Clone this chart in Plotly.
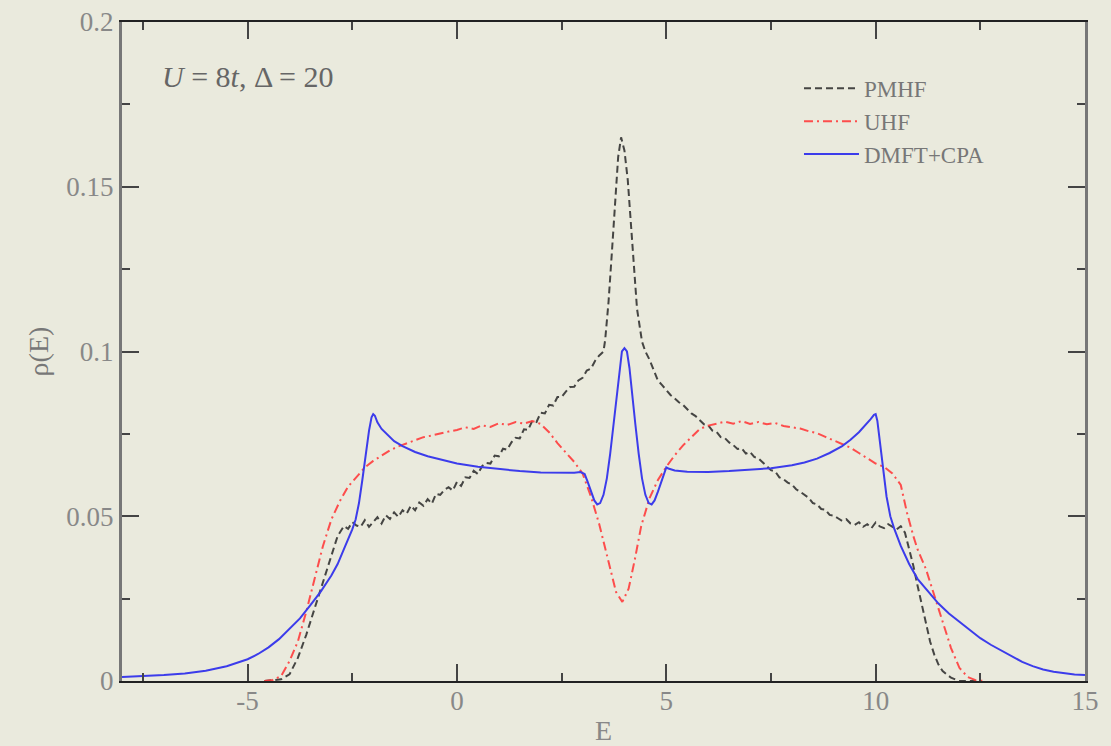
import plotly.graph_objects as go

# Density of states rho(E) for U = 8t, Delta = 20

# PMHF (paramagnetic Hartree-Fock)
pmhf_E = [-4.6, -4.2, -4.0, -3.8, -3.6, -3.4, -3.2, -3.0, -2.85, -2.7, -2.6, -2.5, -2.4, -2.3,
          -2.2, -2.1, -2.0, -1.9, -1.8, -1.7, -1.6, -1.5, -1.4, -1.3, -1.2, -1.1, -1.0, -0.9,
          -0.8, -0.7, -0.6, -0.5, -0.4, -0.3, -0.2, -0.1, 0.0, 0.1, 0.2, 0.3, 0.4, 0.5, 0.6,
          0.7, 0.8, 0.9, 1.0, 1.1, 1.2, 1.3, 1.4, 1.5, 1.6, 1.7, 1.8, 1.9, 2.0, 2.1, 2.2, 2.3,
          2.4, 2.5, 2.6, 2.7, 2.8, 2.9, 3.0, 3.1, 3.2, 3.3, 3.4, 3.5, 3.54, 3.62, 3.70, 3.78,
          3.85, 3.92, 4.0, 4.08, 4.15, 4.2, 4.3, 4.42, 4.5, 4.6, 4.7, 4.8, 4.9, 5.0, 5.1, 5.2,
          5.3, 5.4, 5.5, 5.6, 5.7, 5.8, 5.9, 6.0, 6.1, 6.2, 6.3, 6.4, 6.5, 6.6, 6.7, 6.8, 6.9,
          7.0, 7.1, 7.2, 7.3, 7.4, 7.5, 7.6, 7.7, 7.8, 7.9, 8.0, 8.1, 8.2, 8.3, 8.4, 8.5, 8.6,
          8.7, 8.8, 8.9, 9.0, 9.1, 9.2, 9.3, 9.4, 9.5, 9.6, 9.7, 9.8, 9.9, 10.0, 10.1, 10.2,
          10.3, 10.4, 10.5, 10.6, 10.7, 10.8, 10.9, 11.0, 11.1, 11.2, 11.3, 11.4, 11.5, 11.6,
          11.8, 12.0, 12.4]
pmhf_rho = [0.0, 0.0005, 0.002, 0.007, 0.014, 0.022, 0.030, 0.038, 0.044, 0.047, 0.0462, 0.0482,
            0.0472, 0.0468, 0.0488, 0.0468, 0.0482, 0.0497, 0.0478, 0.0503, 0.0492, 0.0512,
            0.0498, 0.0518, 0.0508, 0.0532, 0.0518, 0.0542, 0.0532, 0.0552, 0.0538, 0.0568,
            0.0565, 0.0580, 0.0588, 0.0578, 0.0604, 0.0592, 0.0618, 0.0616, 0.0638, 0.0628,
            0.0652, 0.0662, 0.0660, 0.0684, 0.0682, 0.0705, 0.0702, 0.0724, 0.0738, 0.0736,
            0.0764, 0.0762, 0.0790, 0.0786, 0.0814, 0.0812, 0.0838, 0.0836, 0.0862, 0.0862,
            0.0878, 0.0892, 0.0893, 0.0912, 0.0920, 0.0942, 0.0948, 0.0972, 0.0988, 0.1000,
            0.1035, 0.115, 0.130, 0.147, 0.159, 0.165, 0.161, 0.152, 0.140, 0.130, 0.113, 0.103,
            0.1000, 0.0975, 0.0942, 0.0912, 0.0898, 0.0882, 0.0868, 0.0858, 0.0846, 0.0838,
            0.0824, 0.0812, 0.0804, 0.0792, 0.0779, 0.0776, 0.0760, 0.0756, 0.0740, 0.0737,
            0.0724, 0.0716, 0.0704, 0.0706, 0.0690, 0.0695, 0.0680, 0.0676, 0.0664, 0.0652,
            0.0640, 0.0636, 0.0618, 0.0612, 0.0602, 0.0596, 0.0582, 0.0574, 0.0564, 0.0556,
            0.0540, 0.0536, 0.0522, 0.0520, 0.0504, 0.0502, 0.0494, 0.0486, 0.0491, 0.0478,
            0.0474, 0.0482, 0.0468, 0.0476, 0.0464, 0.0481, 0.0469, 0.0464, 0.0476, 0.0468,
            0.0460, 0.0470, 0.0450, 0.0400, 0.0350, 0.0290, 0.0230, 0.0170, 0.0120, 0.0080,
            0.0050, 0.0030, 0.0010, 0.0, 0.0]

# UHF (unrestricted Hartree-Fock)
uhf_E = [-4.6, -4.4, -4.2, -4.0, -3.8, -3.6, -3.4, -3.2, -3.0, -2.8, -2.6, -2.4, -2.2, -2.0,
         -1.8, -1.6, -1.4, -1.2, -1.0, -0.8, -0.6, -0.4, -0.2, 0.0, 0.2, 0.4, 0.6, 0.8, 1.0,
         1.2, 1.4, 1.6, 1.8, 2.0, 2.2, 2.4, 2.6, 2.8, 3.0, 3.2, 3.4, 3.6, 3.8, 3.95, 4.1, 4.25,
         4.4, 4.6, 4.8, 5.0, 5.2, 5.4, 5.6, 5.8, 6.0, 6.2, 6.4, 6.6, 6.8, 7.0, 7.2, 7.4, 7.6,
         7.8, 8.0, 8.2, 8.4, 8.6, 8.8, 9.0, 9.2, 9.4, 9.6, 9.8, 10.0, 10.2, 10.4, 10.6, 10.75,
         10.9, 11.0, 11.2, 11.4, 11.6, 11.8, 12.0, 12.2, 12.4, 12.6]
uhf_rho = [0.0, 0.0003, 0.0015, 0.006, 0.012, 0.021, 0.031, 0.041, 0.049, 0.0545, 0.059, 0.062,
           0.0648, 0.0668, 0.0685, 0.0700, 0.0712, 0.0722, 0.0730, 0.0740, 0.0745, 0.0752,
           0.0757, 0.0762, 0.0770, 0.0765, 0.0776, 0.0771, 0.0782, 0.0777, 0.0786, 0.0781,
           0.0789, 0.0780, 0.0755, 0.0722, 0.0695, 0.0665, 0.0630, 0.0560, 0.0475, 0.0370,
           0.0270, 0.0240, 0.0280, 0.0370, 0.0470, 0.0555, 0.0610, 0.0650, 0.0685, 0.0715,
           0.0740, 0.0765, 0.0775, 0.0782, 0.0787, 0.0781, 0.0789, 0.0780, 0.0786, 0.0779,
           0.0783, 0.0774, 0.0770, 0.0766, 0.0758, 0.0752, 0.0741, 0.0730, 0.0721, 0.0708,
           0.0692, 0.0676, 0.0660, 0.0650, 0.0630, 0.0595, 0.0510, 0.0440, 0.0400, 0.0340,
           0.0260, 0.0185, 0.0100, 0.0040, 0.0012, 0.0002, 0.0]

# DMFT+CPA
dmft_E = [-8.0, -7.5, -7.0, -6.5, -6.0, -5.5, -5.0, -4.75, -4.5, -4.25, -4.0, -3.75, -3.5,
          -3.25, -3.0, -2.85, -2.7, -2.6, -2.5, -2.42, -2.34, -2.26, -2.18, -2.1, -2.04, -2.0,
          -1.96, -1.9, -1.8, -1.65, -1.5, -1.3, -1.0, -0.7, -0.4, 0.0, 0.5, 1.0, 1.5, 2.0,
          2.5, 2.8, 2.95, 3.05, 3.12, 3.2, 3.28, 3.35, 3.42, 3.5, 3.58, 3.66, 3.74, 3.82, 3.88,
          3.94, 4.0, 4.06, 4.12, 4.18, 4.26, 4.34, 4.42, 4.5, 4.58, 4.65, 4.72, 4.8, 4.88, 4.95,
          5.0, 5.05, 5.2, 5.5, 6.0, 6.5, 7.0, 7.5, 8.0, 8.3, 8.6, 8.9, 9.2, 9.4, 9.6, 9.75,
          9.88, 9.96, 10.0, 10.04, 10.1, 10.18, 10.26, 10.35, 10.45, 10.6, 10.8, 11.0, 11.25,
          11.5, 11.75, 12.0, 12.25, 12.5, 12.75, 13.0, 13.25, 13.5, 13.75, 14.0, 14.25, 14.5,
          14.75, 15.0]
dmft_rho = [0.0012, 0.0014, 0.0018, 0.0023, 0.0031, 0.0045, 0.0066, 0.0082, 0.0102, 0.0127,
            0.0157, 0.0190, 0.0230, 0.0272, 0.0320, 0.0355, 0.0400, 0.0430, 0.0460, 0.0490,
            0.0540, 0.0610, 0.0690, 0.0760, 0.0800, 0.0810, 0.0805, 0.0785, 0.0765, 0.0745,
            0.0728, 0.0713, 0.0695, 0.0682, 0.0672, 0.0660, 0.0650, 0.0643, 0.0637, 0.0633,
            0.0631, 0.0632, 0.0634, 0.0628, 0.0605, 0.0575, 0.0548, 0.0536, 0.0540, 0.0565,
            0.0615, 0.0690, 0.0780, 0.0870, 0.0950, 0.1000, 0.1010, 0.1000, 0.0950, 0.0870,
            0.0780, 0.0690, 0.0615, 0.0565, 0.0540, 0.0536, 0.0548, 0.0575, 0.0605, 0.0628,
            0.0648, 0.0645, 0.0639, 0.0635, 0.0634, 0.0637, 0.0641, 0.0646, 0.0655, 0.0663,
            0.0675, 0.0692, 0.0713, 0.0732, 0.0755, 0.0775, 0.0795, 0.0808, 0.0810, 0.0790,
            0.0730, 0.0640, 0.0560, 0.0500, 0.0460, 0.0410, 0.0355, 0.0310, 0.0272, 0.0235,
            0.0205, 0.0180, 0.0155, 0.0130, 0.0110, 0.0092, 0.0074, 0.0058, 0.0045, 0.0035,
            0.0028, 0.0023, 0.0020, 0.0018]

x_ticks = [-5, 0, 5, 10, 15]
x_tick_text = ["-5", "0", "5", "10", "15"]
y_ticks = [0, 0.05, 0.1, 0.15, 0.2]
y_tick_text = ["0", "0.05", "0.1", "0.15", "0.2"]

BG = "rgb(234,234,221)"
SERIF = "Liberation Serif, Times New Roman, serif"

fig = go.Figure()
fig.add_trace(go.Scatter(x=pmhf_E, y=pmhf_rho, mode="lines", name="PMHF",
                         line=dict(color="rgba(40,40,40,0.85)", width=2, dash="7px,4px")))
fig.add_trace(go.Scatter(x=uhf_E, y=uhf_rho, mode="lines", name="UHF",
                         line=dict(color="rgba(255,60,60,0.9)", width=2,
                                   dash="9px,4px,2px,4px")))
fig.add_trace(go.Scatter(x=dmft_E, y=dmft_rho, mode="lines", name="DMFT+CPA",
                         line=dict(color="rgb(60,60,235)", width=2)))

fig.add_annotation(x=0.039, y=0.917, xref="paper", yref="paper", xanchor="left",
                   yanchor="middle", showarrow=False,
                   text="<i>U</i> = 8<i>t</i>, Δ = 20",
                   font=dict(family=SERIF, size=30, color="#666"))

fig.update_layout(
    width=1111, height=746,
    margin=dict(l=122, r=26, t=22, b=65),
    paper_bgcolor=BG, plot_bgcolor=BG,
    font=dict(family=SERIF, size=27, color="#888"),
    showlegend=True,
    legend=dict(x=0.703, y=0.932, xanchor="left", yanchor="top", itemwidth=55,
                bgcolor="rgba(0,0,0,0)", font=dict(family=SERIF, size=23, color="#777"),
                tracegroupgap=0),
)
fig.update_xaxes(
    range=[-8, 15], showgrid=False, zeroline=False, automargin=False,
    tickvals=x_ticks, ticktext=x_tick_text, ticklabelstandoff=-5,
    ticks="inside", ticklen=17, tickwidth=2, tickcolor="#444",
    minor=dict(dtick=2.5, tick0=0, ticks="inside", ticklen=8, tickwidth=2, tickcolor="#444"),
    showline=True, linecolor="#222", linewidth=2, mirror="allticks",
    title=dict(text="E", font=dict(family=SERIF, size=28, color="#888"), standoff=18),
)
fig.update_yaxes(
    range=[0, 0.2], showgrid=False, zeroline=False, automargin=False,
    tickvals=y_ticks, ticktext=y_tick_text,
    ticks="inside", ticklen=17, tickwidth=2, tickcolor="#444",
    minor=dict(dtick=0.025, tick0=0, ticks="inside", ticklen=8, tickwidth=2, tickcolor="#444"),
    showline=True, linecolor="#777", linewidth=3, mirror="allticks",
    title=dict(text="ρ(E)", font=dict(family=SERIF, size=28, color="#777"), standoff=10),
)

fig.write_html("out.html")
